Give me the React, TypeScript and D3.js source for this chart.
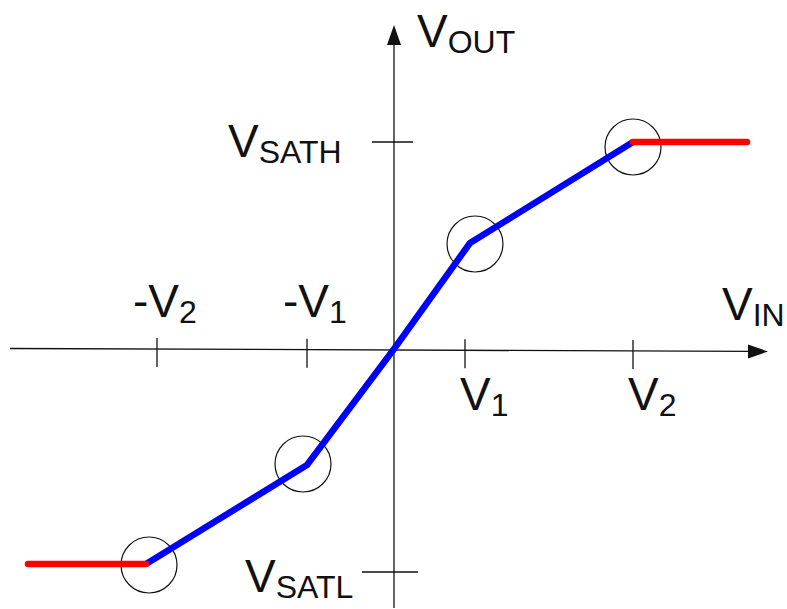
import React from "react";
import * as d3 from "d3";

const W = 787;
const H = 609;

// Transfer characteristic (input units, output units)
const flatLowX = [-3.66, -2.48];
const flatLowY = [-2.15, -2.15];
const linearX = [-2.48, -0.87, 0, 0.76, 2.39];
const linearY = [-2.15, -1.16, 0, 1.06, 2.07];
const flatHighX = [2.39, 3.53];
const flatHighY = [2.07, 2.07];

// Knee markers
const kneeX = [-2.45, -0.91, 0.81, 2.39];
const kneeY = [-2.16, -1.15, 1.05, 2.02];

// Axis tick positions and labels
const xTickValues = [-2.37, -0.87, 0.71, 2.39];
const xTickMain = ["-V", "-V", "V", "V"];
const xTickSub = ["2", "1", "1", "2"];
const xTickAbove = [true, true, false, false];
const yTickValues = [2.07, -2.23];
const yTickSub = ["SATH", "SATL"];

export default function App() {
  const x = d3.scaleLinear().domain([-3.84, 3.74]).range([10, 768]);
  const y = d3.scaleLinear().domain([-2.59, 3.24]).range([608, 25]);
  const line = d3
    .line<[number, number]>()
    .x((d) => x(d[0]))
    .y((d) => y(d[1]));

  const low = flatLowX.map((v, i) => [v, flatLowY[i]] as [number, number]);
  const lin = linearX.map((v, i) => [v, linearY[i]] as [number, number]);
  const high = flatHighX.map((v, i) => [v, flatHighY[i]] as [number, number]);

  const x0 = x(0);
  const y0 = y(0);
  // slight tilt of the drawn horizontal axis, as in the original drawing
  const axisY = (px: number) => y0 - 0.5 + ((px - 10) / 758) * 3;
  const font = "'Liberation Sans', Arial, sans-serif";
  const big = 46;
  const small = 32;
  const ink = "#111";

  const label = (
    xPos: number,
    yBase: number,
    main: string,
    sub: string,
    key: string
  ) => (
    <text key={key} x={xPos} y={yBase} fontFamily={font} fontSize={big} fill={ink}>
      {main}
      <tspan fontSize={small} dy={6}>
        {sub}
      </tspan>
    </text>
  );

  const tipX = x(3.74);
  const baseX = x(3.54);

  return (
    <svg
      width={W}
      height={H}
      style={{ position: "absolute", left: 0, top: 0, background: "#fff" }}
    >
      <rect width={W} height={H} fill="#fff" />
      {/* x axis */}
      <line x1={10} y1={axisY(10)} x2={baseX + 2} y2={axisY(baseX + 2)} stroke={ink} strokeWidth={1.3} />
      <path
        d={`M${tipX},${axisY(tipX)} L${baseX},${axisY(baseX) - 7} L${baseX},${axisY(baseX) + 7} Z`}
        fill={ink}
      />
      {/* y axis */}
      <line x1={x0} y1={y(-2.59)} x2={x0} y2={y(3.06)} stroke={ink} strokeWidth={1.3} />
      <path
        d={`M${x0},${y(3.24)} L${x0 - 7},${y(3.04)} L${x0 + 7},${y(3.04)} Z`}
        fill={ink}
      />
      {/* x ticks */}
      {xTickValues.map((v, i) => (
        <line
          key={"xt" + i}
          x1={x(v)}
          x2={x(v)}
          y1={axisY(x(v)) - 11}
          y2={axisY(x(v)) + 18}
          stroke={ink}
          strokeWidth={1.3}
        />
      ))}
      {/* y ticks */}
      <line x1={x0 - 22} x2={x0 + 19} y1={y(yTickValues[0])} y2={y(yTickValues[0])} stroke={ink} strokeWidth={1.3} />
      <line x1={x0 - 32} x2={x0 + 24} y1={y(yTickValues[1])} y2={y(yTickValues[1])} stroke={ink} strokeWidth={1.3} />

      {/* x tick labels */}
      {xTickValues.map((v, i) =>
        label(
          x(v) + (xTickAbove[i] ? -24 : -5),
          xTickAbove[i] ? y0 - 32 : y0 + 61,
          xTickMain[i],
          xTickSub[i],
          "xl" + i
        )
      )}
      {/* y tick labels */}
      {label(x0 - 166, y(yTickValues[0]) + 15, "V", yTickSub[0], "yl0")}
      {label(x0 - 149, y(yTickValues[1]) + 20, "V", yTickSub[1], "yl1")}
      {/* axis titles */}
      {label(x0 + 23, 47, "V", "OUT", "yt")}
      {label(x(3.28), y0 - 29, "V", "IN", "xt")}

      {/* knee circles */}
      {kneeX.map((v, i) => (
        <circle
          key={"c" + i}
          cx={x(v)}
          cy={y(kneeY[i])}
          r={28}
          fill="none"
          stroke={ink}
          strokeWidth={1.2}
        />
      ))}

      {/* curve */}
      <path d={line(lin) || ""} fill="none" stroke="#0000ff" strokeWidth={6.5} strokeLinejoin="round" />
      <path d={line(low) || ""} fill="none" stroke="#ff0000" strokeWidth={6.5} strokeLinecap="round" />
      <path d={line(high) || ""} fill="none" stroke="#ff0000" strokeWidth={6.5} strokeLinecap="round" />
    </svg>
  );
}
